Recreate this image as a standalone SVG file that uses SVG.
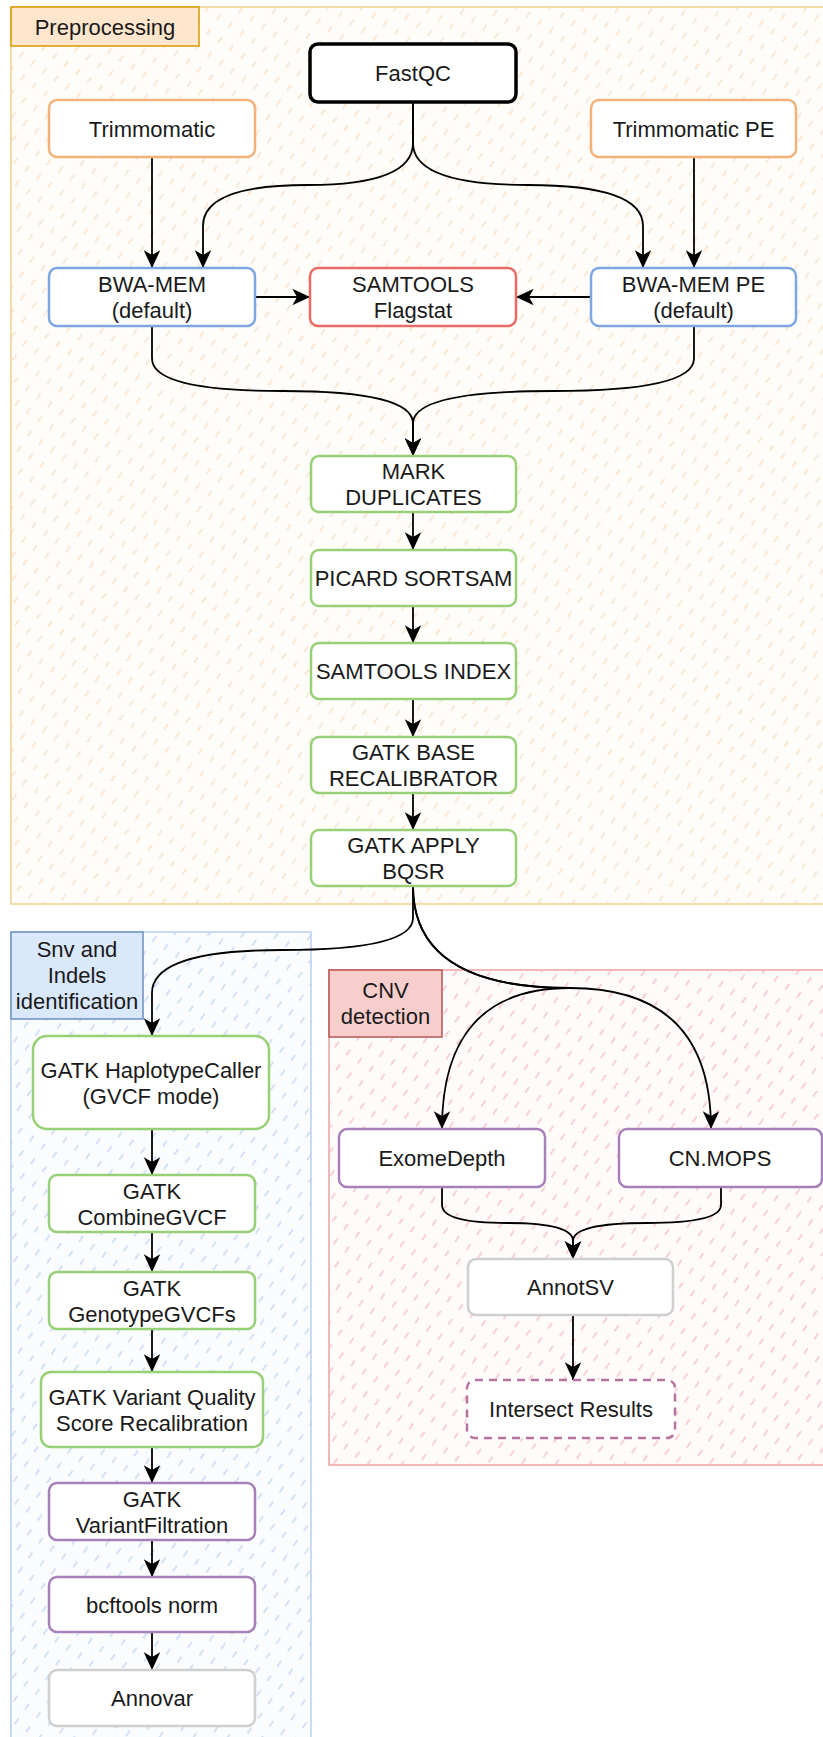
<svg xmlns="http://www.w3.org/2000/svg" width="823" height="1737" viewBox="0 0 823 1737">
  <defs>
    <pattern id="hatchOrange" width="18" height="14" patternUnits="userSpaceOnUse" patternTransform="rotate(-55)">
      <line x1="0" y1="7" x2="7" y2="7" stroke="#f5d6bd" stroke-width="1.1"/>
    </pattern>
    <pattern id="hatchBlue" width="18" height="14" patternUnits="userSpaceOnUse" patternTransform="rotate(-55)">
      <line x1="0" y1="7" x2="7" y2="7" stroke="#b4cbee" stroke-width="1.1"/>
    </pattern>
    <pattern id="hatchRed" width="18" height="14" patternUnits="userSpaceOnUse" patternTransform="rotate(-55)">
      <line x1="0" y1="7" x2="7" y2="7" stroke="#f1aeb4" stroke-width="1.1"/>
    </pattern>
    <marker id="arrow" markerUnits="userSpaceOnUse" markerWidth="20" markerHeight="20" viewBox="-16 -8 17 16" refX="0" refY="0" orient="auto">
      <path d="M0,0 L-15,-7 L-11,0 L-15,7 Z" fill="#000"/>
    </marker>
  </defs>
  <style>
    text { font-family: "Liberation Sans", Arial, Helvetica, sans-serif; font-size: 22px; fill: #1a1a1a; text-anchor: middle; }
    .node { fill: #ffffff; stroke-width: 2.5; }
    .orange { stroke: #f2b27a; }
    .blue { stroke: #7ea6e0; }
    .red { stroke: #ea6b66; }
    .green { stroke: #97d077; }
    .purple { stroke: #a680b8; }
    .grey { stroke: #cfcfcf; }
    .black { stroke: #000000; stroke-width: 3.5; }
    .dashed { stroke: #b5739d; stroke-dasharray: 8 6; }
    .edge { fill: none; stroke: #000; stroke-width: 1.8; marker-end: url(#arrow); }
  </style>

  <rect x="0" y="0" width="823" height="1737" fill="#ffffff"/>

  <!-- Containers -->
  <g id="container-preprocessing">
    <rect x="11" y="7" width="830" height="897" fill="#fffdf9" stroke="#efd08e" stroke-width="1.5"/>
    <rect x="11" y="7" width="830" height="897" fill="url(#hatchOrange)" stroke="none"/>
    <rect x="11" y="7" width="188" height="39" fill="#ffe6cc" stroke="#d79b00" stroke-width="1.5"/>
    <text x="105" y="35">Preprocessing</text>
  </g>
  <g id="container-snv">
    <rect x="11" y="932" width="300" height="820" fill="#fbfcfe" stroke="#b9cfee" stroke-width="1.5"/>
    <rect x="11" y="932" width="300" height="820" fill="url(#hatchBlue)" stroke="none"/>
    <rect x="11" y="932" width="132" height="87" fill="#dae8fc" stroke="#6c8ebf" stroke-width="1.5"/>
    <text x="77" y="957">Snv and</text>
    <text x="77" y="983">Indels</text>
    <text x="77" y="1009">identification</text>
  </g>
  <g id="container-cnv">
    <rect x="329" y="970" width="510" height="495" fill="#fffbfb" stroke="#eaa3a3" stroke-width="1.5"/>
    <rect x="329" y="970" width="510" height="495" fill="url(#hatchRed)" stroke="none"/>
    <rect x="329" y="970" width="113" height="67" fill="#f8cecc" stroke="#b85450" stroke-width="1.5"/>
    <text x="385.5" y="998">CNV</text>
    <text x="385.5" y="1024">detection</text>
  </g>

  <!-- Connectors -->
  <g id="connectors">
    <path class="edge" d="M413,102 L413,143 Q413,185 308,185 Q203,185 203,226 L203,268"/>
    <path class="edge" d="M413,102 L413,143 Q413,185 528,185 Q643,185 643,226 L643,268"/>
    <path class="edge" d="M152,157 L152,268"/>
    <path class="edge" d="M694,157 L694,268"/>
    <path class="edge" d="M255,297 L310,297"/>
    <path class="edge" d="M591,297 L516,297"/>
    <path class="edge" d="M152,326 L152,358.5 Q152,391 282.5,391 Q413,391 413,423.5 L413,456"/>
    <path class="edge" d="M694,326 L694,358.5 Q694,391 553.5,391 Q413,391 413,423.5 L413,456"/>
    <path class="edge" d="M413,512 L413,550"/>
    <path class="edge" d="M413,606 L413,643"/>
    <path class="edge" d="M413,699 L413,737"/>
    <path class="edge" d="M413,793 L413,830"/>
    <path class="edge" d="M413,886 L413,918 Q413,950 282.5,950 Q152,950 152,993 L152,1036"/>
    <path class="edge" d="M413,886 Q413,988 570,988 Q442,988 442,1129"/>
    <path class="edge" d="M413,886 Q413,988 570,988 Q711,988 711,1129"/>
    <path class="edge" d="M442,1187 L442,1205 Q442,1223 507.5,1223 Q573,1223 573,1241 L573,1259"/>
    <path class="edge" d="M721,1187 L721,1205 Q721,1223 647,1223 Q573,1223 573,1241 L573,1259"/>
    <path class="edge" d="M573,1315 L573,1380"/>
    <path class="edge" d="M152,1129 L152,1175"/>
    <path class="edge" d="M152,1232 L152,1272"/>
    <path class="edge" d="M152,1329 L152,1372"/>
    <path class="edge" d="M152,1447 L152,1483"/>
    <path class="edge" d="M152,1540 L152,1577"/>
    <path class="edge" d="M152,1632 L152,1670"/>
  </g>

  <!-- Nodes -->
  <g id="node-fastqc">
    <rect class="node black" x="310" y="44" width="206" height="58" rx="8"/>
    <text x="413" y="81">FastQC</text>
  </g>
  <g id="node-trimmomatic">
    <rect class="node orange" x="49" y="100" width="206" height="57" rx="8"/>
    <text x="152" y="136.5">Trimmomatic</text>
  </g>
  <g id="node-trimmomatic-pe">
    <rect class="node orange" x="591" y="100" width="205" height="57" rx="8"/>
    <text x="693.5" y="136.5">Trimmomatic PE</text>
  </g>
  <g id="node-bwa-mem">
    <rect class="node blue" x="49" y="268" width="206" height="58" rx="8"/>
    <text x="152" y="292">BWA-MEM</text>
    <text x="152" y="318">(default)</text>
  </g>
  <g id="node-samtools-flagstat">
    <rect class="node red" x="310" y="268" width="206" height="58" rx="8"/>
    <text x="413" y="292">SAMTOOLS</text>
    <text x="413" y="318">Flagstat</text>
  </g>
  <g id="node-bwa-mem-pe">
    <rect class="node blue" x="591" y="268" width="205" height="58" rx="8"/>
    <text x="693.5" y="292">BWA-MEM PE</text>
    <text x="693.5" y="318">(default)</text>
  </g>
  <g id="node-mark-duplicates">
    <rect class="node green" x="311" y="456" width="205" height="56" rx="8"/>
    <text x="413.5" y="479">MARK</text>
    <text x="413.5" y="505">DUPLICATES</text>
  </g>
  <g id="node-picard-sortsam">
    <rect class="node green" x="311" y="550" width="205" height="56" rx="8"/>
    <text x="413.5" y="586">PICARD SORTSAM</text>
  </g>
  <g id="node-samtools-index">
    <rect class="node green" x="311" y="643" width="205" height="56" rx="8"/>
    <text x="413.5" y="679">SAMTOOLS INDEX</text>
  </g>
  <g id="node-gatk-base-recalibrator">
    <rect class="node green" x="311" y="737" width="205" height="56" rx="8"/>
    <text x="413.5" y="760">GATK BASE</text>
    <text x="413.5" y="786">RECALIBRATOR</text>
  </g>
  <g id="node-gatk-apply-bqsr">
    <rect class="node green" x="311" y="830" width="205" height="56" rx="8"/>
    <text x="413.5" y="853">GATK APPLY</text>
    <text x="413.5" y="879">BQSR</text>
  </g>
  <g id="node-haplotypecaller">
    <rect class="node green" x="33" y="1036" width="236" height="93" rx="14"/>
    <text x="151" y="1077.5">GATK HaplotypeCaller</text>
    <text x="151" y="1103.5">(GVCF mode)</text>
  </g>
  <g id="node-combinegvcf">
    <rect class="node green" x="49" y="1175" width="206" height="57" rx="8"/>
    <text x="152" y="1198.5">GATK</text>
    <text x="152" y="1224.5">CombineGVCF</text>
  </g>
  <g id="node-genotypegvcfs">
    <rect class="node green" x="49" y="1272" width="206" height="57" rx="8"/>
    <text x="152" y="1295.5">GATK</text>
    <text x="152" y="1321.5">GenotypeGVCFs</text>
  </g>
  <g id="node-vqsr">
    <rect class="node green" x="41" y="1372" width="222" height="75" rx="10"/>
    <text x="152" y="1404.5">GATK Variant Quality</text>
    <text x="152" y="1430.5">Score Recalibration</text>
  </g>
  <g id="node-variantfiltration">
    <rect class="node purple" x="49" y="1483" width="206" height="57" rx="8"/>
    <text x="152" y="1506.5">GATK</text>
    <text x="152" y="1532.5">VariantFiltration</text>
  </g>
  <g id="node-bcftools-norm">
    <rect class="node purple" x="49" y="1577" width="206" height="55" rx="8"/>
    <text x="152" y="1612.5">bcftools norm</text>
  </g>
  <g id="node-annovar">
    <rect class="node grey" x="49" y="1670" width="206" height="56" rx="8"/>
    <text x="152" y="1706">Annovar</text>
  </g>
  <g id="node-exomedepth">
    <rect class="node purple" x="339" y="1129" width="206" height="58" rx="8"/>
    <text x="442" y="1166">ExomeDepth</text>
  </g>
  <g id="node-cnmops">
    <rect class="node purple" x="619" y="1129" width="203" height="58" rx="8"/>
    <text x="720" y="1166">CN.MOPS</text>
  </g>
  <g id="node-annotsv">
    <rect class="node grey" x="468" y="1259" width="205" height="56" rx="8"/>
    <text x="570.5" y="1295">AnnotSV</text>
  </g>
  <g id="node-intersect-results">
    <rect class="node dashed" x="467" y="1380" width="208" height="58" rx="8"/>
    <text x="571" y="1417">Intersect Results</text>
  </g>
</svg>
